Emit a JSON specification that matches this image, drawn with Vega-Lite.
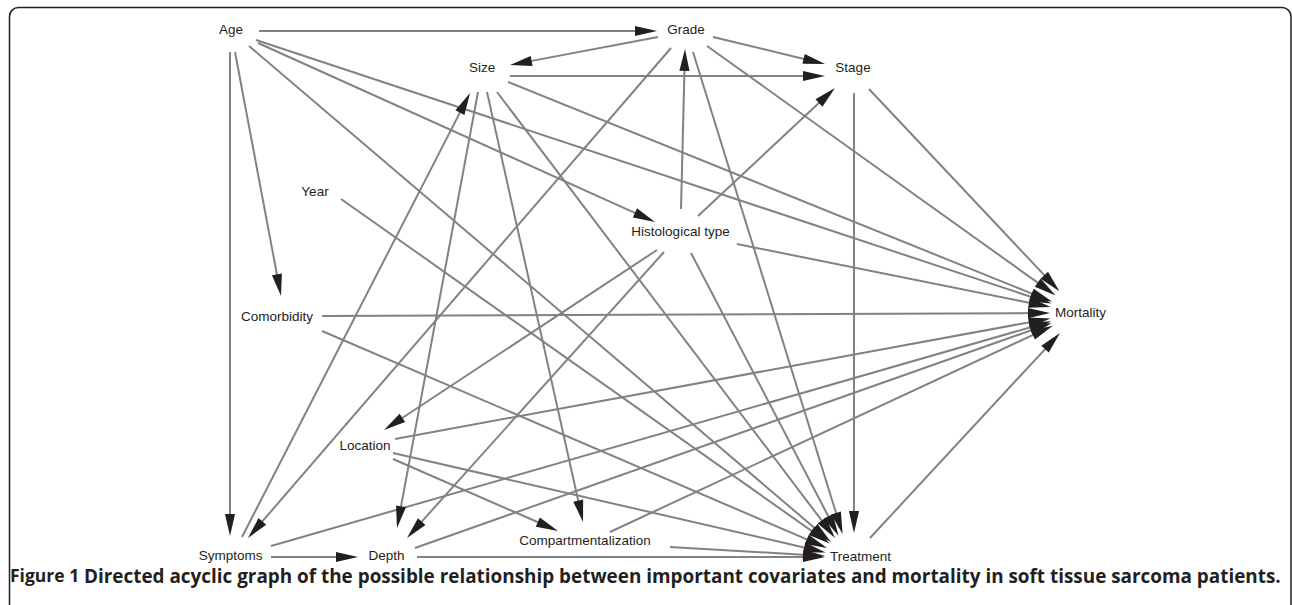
{
  "$schema": "https://vega.github.io/schema/vega-lite/v6.json",
  "width": 1292,
  "height": 605,
  "autosize": {"type": "none"},
  "padding": 0,
  "background": "white",
  "config": {"view": {"stroke": null}},
  "datasets": {
    "frame": [
      {"x": 9.5, "y": 7.5, "x2": 1291, "y2": 660}
    ],
    "edges": [
      {"from": "Age", "to": "Grade", "x1": 259, "y1": 31, "x2": 657, "y2": 31},
      {"from": "Age", "to": "Symptoms", "x1": 230, "y1": 52, "x2": 230, "y2": 536},
      {"from": "Age", "to": "Comorbidity", "x1": 235, "y1": 52, "x2": 281, "y2": 296},
      {"from": "Age", "to": "Histological type", "x1": 258, "y1": 43, "x2": 655, "y2": 222},
      {"from": "Age", "to": "Mortality", "x1": 256, "y1": 40, "x2": 1051.5, "y2": 303.6},
      {"from": "Age", "to": "Treatment", "x1": 249, "y1": 46, "x2": 831, "y2": 542},
      {"from": "Grade", "to": "Size", "x1": 658, "y1": 37, "x2": 510, "y2": 65},
      {"from": "Grade", "to": "Stage", "x1": 713, "y1": 37, "x2": 825, "y2": 64},
      {"from": "Grade", "to": "Symptoms", "x1": 671, "y1": 48, "x2": 248, "y2": 538},
      {"from": "Grade", "to": "Treatment", "x1": 693, "y1": 52, "x2": 842.6, "y2": 534},
      {"from": "Grade", "to": "Mortality", "x1": 707, "y1": 46, "x2": 1055.6, "y2": 295.5},
      {"from": "Size", "to": "Stage", "x1": 510, "y1": 76, "x2": 825, "y2": 76},
      {"from": "Size", "to": "Depth", "x1": 478, "y1": 92, "x2": 397, "y2": 528},
      {"from": "Size", "to": "Compartmentalization", "x1": 487, "y1": 92, "x2": 583, "y2": 522},
      {"from": "Size", "to": "Treatment", "x1": 497, "y1": 92, "x2": 835, "y2": 538},
      {"from": "Size", "to": "Mortality", "x1": 508, "y1": 82, "x2": 1052.2, "y2": 301.8},
      {"from": "Stage", "to": "Treatment", "x1": 854, "y1": 93, "x2": 854, "y2": 533},
      {"from": "Stage", "to": "Mortality", "x1": 869, "y1": 89, "x2": 1059.4, "y2": 291.2},
      {"from": "Year", "to": "Treatment", "x1": 341, "y1": 199, "x2": 829.6, "y2": 543.6},
      {"from": "Histological type", "to": "Grade", "x1": 681, "y1": 209, "x2": 685, "y2": 49},
      {"from": "Histological type", "to": "Stage", "x1": 698, "y1": 216, "x2": 835, "y2": 88},
      {"from": "Histological type", "to": "Mortality", "x1": 737, "y1": 244, "x2": 1050.6, "y2": 307.1},
      {"from": "Histological type", "to": "Location", "x1": 657, "y1": 250, "x2": 384, "y2": 430},
      {"from": "Histological type", "to": "Depth", "x1": 664, "y1": 252, "x2": 407, "y2": 538},
      {"from": "Histological type", "to": "Treatment", "x1": 691, "y1": 253, "x2": 838.5, "y2": 535.8},
      {"from": "Comorbidity", "to": "Mortality", "x1": 322, "y1": 316, "x2": 1050, "y2": 313},
      {"from": "Comorbidity", "to": "Treatment", "x1": 322, "y1": 331, "x2": 827, "y2": 548},
      {"from": "Location", "to": "Mortality", "x1": 395, "y1": 439, "x2": 1050.5, "y2": 318.4},
      {"from": "Location", "to": "Treatment", "x1": 393, "y1": 453, "x2": 825.6, "y2": 552.4},
      {"from": "Location", "to": "Compartmentalization", "x1": 393, "y1": 459, "x2": 558, "y2": 531},
      {"from": "Symptoms", "to": "Depth", "x1": 271, "y1": 557, "x2": 358, "y2": 557},
      {"from": "Symptoms", "to": "Size", "x1": 242, "y1": 537, "x2": 470, "y2": 93},
      {"from": "Symptoms", "to": "Mortality", "x1": 271, "y1": 546, "x2": 1051.2, "y2": 321.3},
      {"from": "Depth", "to": "Treatment", "x1": 417, "y1": 557, "x2": 825, "y2": 557},
      {"from": "Depth", "to": "Mortality", "x1": 415, "y1": 548, "x2": 1051.7, "y2": 323},
      {"from": "Compartmentalization", "to": "Treatment", "x1": 670, "y1": 547, "x2": 825, "y2": 556},
      {"from": "Compartmentalization", "to": "Mortality", "x1": 610, "y1": 532, "x2": 1052.8, "y2": 325.7},
      {"from": "Treatment", "to": "Mortality", "x1": 870, "y1": 538, "x2": 1060, "y2": 333}
    ],
    "nodes": [
      {"label": "Age", "x": 231, "y": 30},
      {"label": "Grade", "x": 686, "y": 30},
      {"label": "Size", "x": 482, "y": 68},
      {"label": "Stage", "x": 853, "y": 68},
      {"label": "Year", "x": 315, "y": 192},
      {"label": "Histological type", "x": 680.5, "y": 232},
      {"label": "Comorbidity", "x": 277, "y": 317},
      {"label": "Mortality", "x": 1080.5, "y": 313},
      {"label": "Location", "x": 365, "y": 446},
      {"label": "Symptoms", "x": 230.5, "y": 556},
      {"label": "Depth", "x": 386.5, "y": 556},
      {"label": "Compartmentalization", "x": 585, "y": 541},
      {"label": "Treatment", "x": 860.5, "y": 557}
    ],
    "caption": [
      {"part": "label", "text": "Figure 1", "x": 10, "y": 577},
      {"part": "body", "text": "Directed acyclic graph of the possible relationship between important covariates and mortality in soft tissue sarcoma patients.", "x": 84, "y": 577}
    ]
  },
  "layer": [
    {
      "data": {"name": "frame"},
      "mark": {"type": "rect", "fill": null, "fillOpacity": 0, "stroke": "#231f20", "strokeWidth": 1.5, "cornerRadius": 9, "clip": true},
      "encoding": {
        "x": {"field": "x", "type": "quantitative", "scale": {"domain": [0, 1292], "nice": false, "zero": false}, "axis": null},
        "y": {"field": "y", "type": "quantitative", "scale": {"domain": [0, 605], "reverse": true, "nice": false, "zero": false}, "axis": null},
        "x2": {"field": "x2"},
        "y2": {"field": "y2"}
      }
    },
    {
      "data": {"name": "edges"},
      "transform": [
        {"calculate": "sqrt(pow(datum.x2 - datum.x1, 2) + pow(datum.y2 - datum.y1, 2))", "as": "len"},
        {"calculate": "datum.x2 - (datum.x2 - datum.x1) / datum.len * 10", "as": "xe"},
        {"calculate": "datum.y2 - (datum.y2 - datum.y1) / datum.len * 10", "as": "ye"}
      ],
      "mark": {"type": "rule", "color": "#808285", "strokeWidth": 2},
      "encoding": {
        "x": {"field": "x1", "type": "quantitative", "scale": {"domain": [0, 1292], "nice": false, "zero": false}, "axis": null},
        "y": {"field": "y1", "type": "quantitative", "scale": {"domain": [0, 605], "reverse": true, "nice": false, "zero": false}, "axis": null},
        "x2": {"field": "xe"},
        "y2": {"field": "ye"}
      }
    },
    {
      "data": {"name": "edges"},
      "transform": [
        {"calculate": "atan2(datum.x2 - datum.x1, datum.y1 - datum.y2) * 180 / PI", "as": "angle"}
      ],
      "mark": {"type": "point", "shape": "M0,0L-0.46,2L0.46,2Z", "filled": true, "size": 484, "color": "#231f20", "opacity": 1, "strokeWidth": 0},
      "encoding": {
        "x": {"field": "x2", "type": "quantitative", "scale": {"domain": [0, 1292], "nice": false, "zero": false}, "axis": null},
        "y": {"field": "y2", "type": "quantitative", "scale": {"domain": [0, 605], "reverse": true, "nice": false, "zero": false}, "axis": null},
        "angle": {"field": "angle", "type": "quantitative", "scale": null}
      }
    },
    {
      "data": {"name": "nodes"},
      "mark": {"type": "text", "font": "Liberation Sans", "fontSize": 13.5, "color": "#231f20", "align": "center", "baseline": "middle"},
      "encoding": {
        "x": {"field": "x", "type": "quantitative", "scale": {"domain": [0, 1292], "nice": false, "zero": false}, "axis": null},
        "y": {"field": "y", "type": "quantitative", "scale": {"domain": [0, 605], "reverse": true, "nice": false, "zero": false}, "axis": null},
        "text": {"field": "label"}
      }
    },
    {
      "data": {"name": "caption"},
      "transform": [{"filter": "datum.part == 'label'"}],
      "mark": {"type": "text", "font": "Open Sans", "fontSize": 17.5, "fontWeight": "bold", "color": "#231f20", "align": "left", "baseline": "middle"},
      "encoding": {
        "x": {"field": "x", "type": "quantitative", "scale": {"domain": [0, 1292], "nice": false, "zero": false}, "axis": null},
        "y": {"field": "y", "type": "quantitative", "scale": {"domain": [0, 605], "reverse": true, "nice": false, "zero": false}, "axis": null},
        "text": {"field": "text"}
      }
    },
    {
      "data": {"name": "caption"},
      "transform": [{"filter": "datum.part == 'body'"}],
      "mark": {"type": "text", "font": "Open Sans", "fontSize": 18.9, "fontWeight": "bold", "color": "#231f20", "align": "left", "baseline": "middle"},
      "encoding": {
        "x": {"field": "x", "type": "quantitative", "scale": {"domain": [0, 1292], "nice": false, "zero": false}, "axis": null},
        "y": {"field": "y", "type": "quantitative", "scale": {"domain": [0, 605], "reverse": true, "nice": false, "zero": false}, "axis": null},
        "text": {"field": "text"}
      }
    }
  ]
}
